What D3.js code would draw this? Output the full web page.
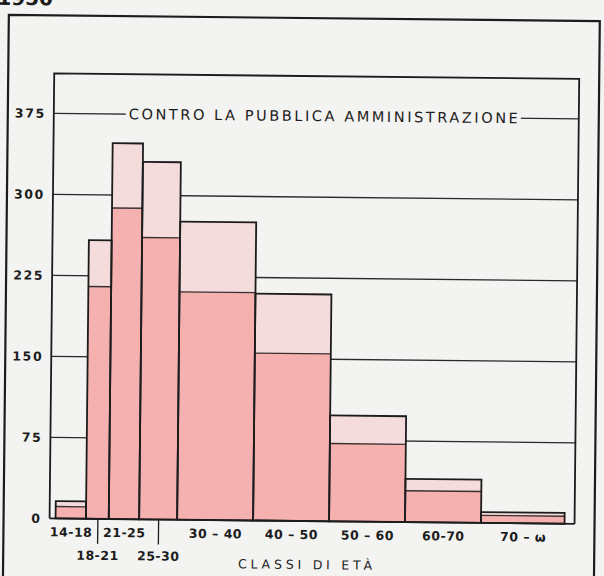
<!DOCTYPE html>
<html><head><meta charset="utf-8">
<script src="https://cdn.jsdelivr.net/npm/d3@7"></script>
<style>html,body{margin:0;padding:0;background:#f3f3f1;} svg{display:block}</style>
</head><body>
<svg id="c" width="604" height="576"></svg>
<script>
// ---- data ----
const classLow = [14, 18, 21, 25, 30, 40, 50, 60, 70];
const classHigh = [18, 21, 25, 30, 40, 50, 60, 70, 81];
const classLabels = ["14-18", "18-21", "21-25", "25-30", "30 – 40", "40 – 50", "50 – 60", "60-70", "70 – ω"];
const labelRow = [0, 1, 0, 1, 0, 0, 0, 0, 0];
const totalValues = [16, 258, 348, 331, 276, 210, 98, 40, 10];
const partValues = [11, 215, 288, 261, 211, 155, 72, 29, 7];
const yTicks = [0, 75, 150, 225, 300, 375];
const chartTitle = "CONTRO LA PUBBLICA AMMINISTRAZIONE";
const xTitle = "CLASSI DI ETÀ";
const yearLabel = "1950";

// ---- layout ----
const W = 604, H = 576;
const L = 52, T = 76, R = 577, B = 521;
const ink = "#1c1c1c", bg = "#f3f3f1";
const lightFill = "#f3dcdb", darkFill = "#f5b0b0";

const svg = d3.select("#c");
svg.append("rect").attr("width", W).attr("height", H).attr("fill", bg);
const g = svg.append("g").attr("transform", "rotate(0.6,302,288)");

const x = d3.scaleLinear().domain([14, 81]).range([58, 567]);
const y = d3.scaleLinear().domain([0, 375]).range([B, 116]);

// year text, mostly above the top edge as in the scan
g.append("text").text(yearLabel).attr("x", 50).attr("y", 8)
  .attr("text-anchor", "end").attr("font-family", "DejaVu Sans").attr("font-weight", "bold")
  .attr("font-size", 20).attr("fill", ink);

// outer frame
g.append("path").attr("d", `M6,610V18H597V610`).attr("fill", "none")
  .attr("stroke", ink).attr("stroke-width", 2.2);

// gridlines
g.selectAll("line.grid").data(yTicks.filter(d => d > 0)).join("line")
  .attr("class", "grid").attr("x1", L).attr("x2", R)
  .attr("y1", d => y(d)).attr("y2", d => y(d))
  .attr("stroke", "#2a2a2a").attr("stroke-width", 1.3);

// title over top gridline (with background knock-out)
const bgRect = g.append("rect").attr("fill", bg);
const tt = g.append("text").text(chartTitle)
  .attr("x", 127).attr("y", y(375) + 5)
  .attr("textLength", 389).attr("lengthAdjust", "spacing")
  .attr("font-family", "DejaVu Sans").attr("font-size", 14.5).attr("fill", ink);
const bb = tt.node().getBBox();
bgRect.attr("x", bb.x - 3).attr("y", bb.y).attr("width", bb.width + 6).attr("height", bb.height);

// bars
const idx = d3.range(classLow.length);
g.selectAll("rect.tot").data(idx).join("rect").attr("class", "tot")
  .attr("x", i => x(classLow[i])).attr("width", i => x(classHigh[i]) - x(classLow[i]))
  .attr("y", i => y(totalValues[i])).attr("height", i => y(0) - y(totalValues[i]))
  .attr("fill", lightFill);
g.selectAll("rect.part").data(idx).join("rect").attr("class", "part")
  .attr("x", i => x(classLow[i])).attr("width", i => x(classHigh[i]) - x(classLow[i]))
  .attr("y", i => y(partValues[i])).attr("height", i => y(0) - y(partValues[i]))
  .attr("fill", darkFill);
g.selectAll("line.sep").data(idx).join("line").attr("class", "sep")
  .attr("x1", i => x(classLow[i])).attr("x2", i => x(classHigh[i]))
  .attr("y1", i => y(partValues[i])).attr("y2", i => y(partValues[i]))
  .attr("stroke", "#3a3030").attr("stroke-width", 1.4);
g.selectAll("rect.out").data(idx).join("rect").attr("class", "out")
  .attr("x", i => x(classLow[i])).attr("width", i => x(classHigh[i]) - x(classLow[i]))
  .attr("y", i => y(totalValues[i])).attr("height", i => y(0) - y(totalValues[i]))
  .attr("fill", "none").attr("stroke", ink).attr("stroke-width", 1.8);

// inner frame
g.append("path").attr("d", `M${L},${B}V${T}H${R}V${B}`).attr("fill", "none")
  .attr("stroke", ink).attr("stroke-width", 1.8);
g.append("line").attr("x1", L).attr("x2", R).attr("y1", y(0)).attr("y2", y(0))
  .attr("stroke", ink).attr("stroke-width", 1.8);

// y axis
const ya = g.append("g").attr("transform", `translate(${L},0)`)
  .call(d3.axisLeft(y).tickValues(yTicks).tickSize(0).tickPadding(8).tickFormat(d3.format("d")));
ya.select(".domain").remove();
ya.selectAll("text").attr("font-family", "DejaVu Sans").attr("font-weight", "bold")
  .attr("font-size", 12.5).attr("letter-spacing", 1.6).attr("fill", ink);

// x axis labels
const centers = idx.map(i => (classLow[i] + classHigh[i]) / 2);
const xa = g.append("g").attr("transform", `translate(0,${B})`)
  .call(d3.axisBottom(x).tickValues(centers).tickSize(0).tickFormat((d, i) => classLabels[i]));
xa.select(".domain").remove();
xa.selectAll(".tick").each(function(d, i) {
  const t = d3.select(this);
  t.select("line").attr("y2", labelRow[i] ? 25 : 0).attr("stroke", ink).attr("stroke-width", 1.3);
  t.select("text").attr("y", labelRow[i] ? 41 : 18).attr("dy", 0);
});
xa.selectAll("text").attr("font-family", "DejaVu Sans").attr("font-weight", "bold")
  .attr("font-size", 12.5).attr("letter-spacing", 0.5).attr("fill", ink);

// x title
g.append("text").text(xTitle).attr("x", 308).attr("y", 569).attr("text-anchor", "middle")
  .attr("textLength", 134).attr("lengthAdjust", "spacing")
  .attr("font-family", "DejaVu Sans").attr("font-size", 12.5).attr("fill", ink);
</script>
</body></html>
